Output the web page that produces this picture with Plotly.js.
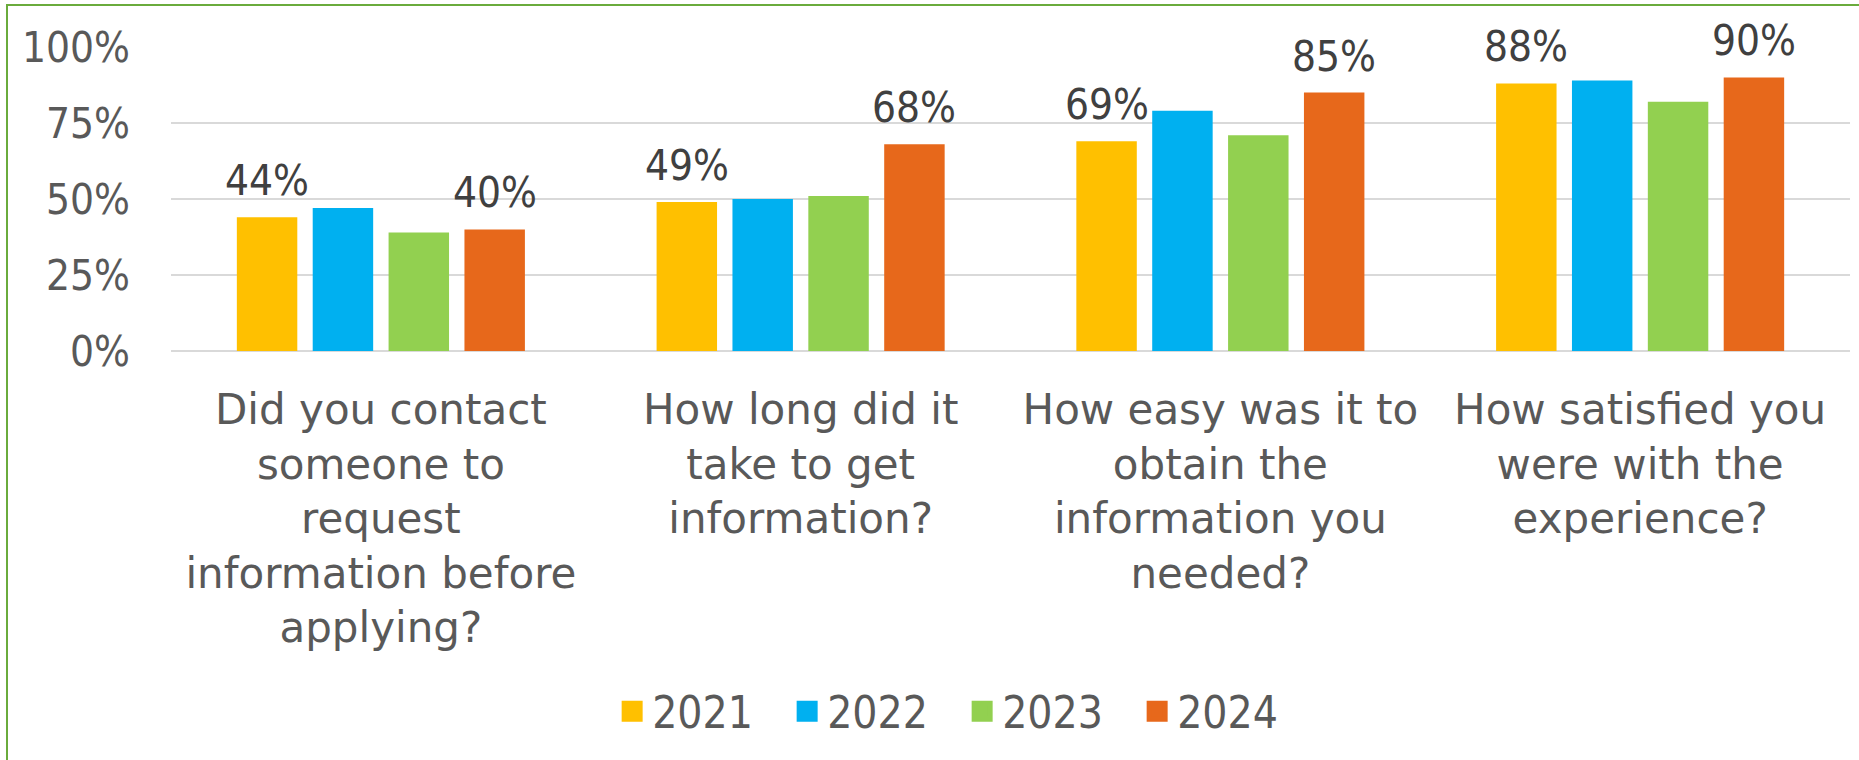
<!DOCTYPE html>
<html>
<head>
<meta charset="utf-8">
<script src="https://cdn.plot.ly/plotly-3.0.1.min.js"></script>
<style>
  html, body { margin: 0; padding: 0; background: #ffffff; }
  #wrap { position: relative; width: 1859px; height: 760px; overflow: hidden; }
  #chart { position: absolute; left: 0; top: 0; width: 1859px; height: 760px; }
  #frame { position: absolute; left: 6px; top: 4px; width: 1900px; height: 800px;
           border-top: 2px solid #6AAB3C; border-left: 2px solid #6AAB3C; pointer-events: none; }
</style>
</head>
<body>
<div id="wrap">
  <div id="chart"></div>
  <div id="frame"></div>
</div>
<script>
// ---- data ----
var categories = [
  "Did you contact<br>someone to<br>request<br>information before<br>applying?",
  "How long did it<br>take to get<br>information?",
  "How easy was it to<br>obtain the<br>information you<br>needed?",
  "How satisfied you<br>were with the<br>experience?"
];
var years = ["2021", "2022", "2023", "2024"];
var values2021 = [44, 49, 69, 88];
var values2022 = [47, 50, 79, 89];
var values2023 = [39, 51, 71, 82];
var values2024 = [40, 68, 85, 90];
var labelledSeries = [0, 3]; // 2021 and 2024 carry data labels
var yTicks = [0, 25, 50, 75, 100];

// ---- style ----
var colors = ["#FFC000", "#00B0F0", "#92D050", "#E7681B"];
var numFont = "Liberation Sans Narrow, DejaVu Sans Condensed, Arial Narrow, sans-serif";
var catFont = "DejaVu Sans, Verdana, sans-serif";
var BARGAP = 0.277, BARGROUPGAP = 0.203;

var series = [values2021, values2022, values2023, values2024];
var traces = [];
series.forEach(function (vals, i) {
  traces.push({
    type: "bar",
    name: years[i],
    x: categories,
    y: vals,
    marker: { color: colors[i] },
    showlegend: false,
    hoverinfo: "y+name"
  });
});
// legend entries (square swatches)
years.forEach(function (yr, i) {
  traces.push({
    type: "scatter",
    mode: "markers",
    name: yr,
    x: [null], y: [null],
    marker: { symbol: "square", size: 16, color: colors[i], line: { color: colors[i], width: 9 } },
    showlegend: true,
    hoverinfo: "skip"
  });
});

// data labels above the 2021 and 2024 bars
var nSeries = series.length;
var slot = (1 - BARGAP) / nSeries;
var annotations = [];
labelledSeries.forEach(function (si) {
  series[si].forEach(function (v, ci) {
    annotations.push({
      x: ci + (si - (nSeries - 1) / 2) * slot,
      y: v,
      xref: "x", yref: "y",
      text: v + "%",
      showarrow: false,
      xanchor: "center", yanchor: "bottom",
      yshift: 10,
      font: { family: numFont, size: 42, color: "#404040" }
    });
  });
});

var layout = {
  width: 1859,
  height: 760,
  margin: { l: 171, r: 9, t: 47, b: 409 },
  paper_bgcolor: "#ffffff",
  plot_bgcolor: "#ffffff",
  barmode: "group",
  bargap: BARGAP,
  bargroupgap: BARGROUPGAP,
  xaxis: {
    type: "category",
    showgrid: false,
    showline: false,
    ticks: "",
    zeroline: false,
    ticklabelstandoff: 30,
    tickfont: { family: catFont, size: 42, color: "#595959" }
  },
  yaxis: {
    range: [0, 100],
    tickvals: yTicks,
    ticktext: yTicks.map(function (t) { return t + "%"; }),
    showgrid: true,
    gridcolor: "#D9D9D9",
    gridwidth: 2,
    zeroline: true,
    zerolinecolor: "#D9D9D9",
    zerolinewidth: 2,
    showline: false,
    ticks: "",
    ticklabelstandoff: 40,
    tickfont: { family: numFont, size: 42, color: "#595959" }
  },
  showlegend: true,
  legend: {
    orientation: "h",
    x: 0.4712,
    xanchor: "center",
    y: -1.186,
    yanchor: "middle",
    entrywidth: 130,
    entrywidthmode: "pixels",
    font: { family: numFont, size: 44, color: "#595959" },
    itemsizing: "trace",
    bgcolor: "rgba(0,0,0,0)"
  },
  annotations: annotations
};

Plotly.newPlot("chart", traces, layout, { displayModeBar: false, staticPlot: true });
</script>
</body>
</html>
